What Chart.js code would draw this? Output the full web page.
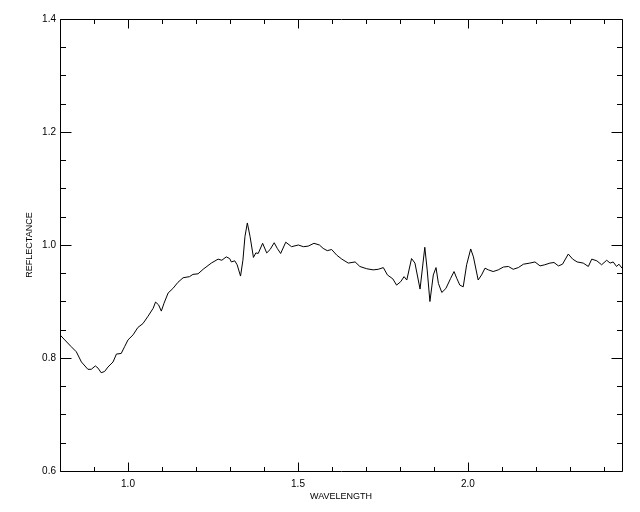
<!DOCTYPE html>
<html>
<head>
<meta charset="utf-8">
<title>Reflectance</title>
<script src="https://cdn.jsdelivr.net/npm/chart.js@4"></script>
<style>
  html, body { margin: 0; padding: 0; background: #fff; }
  canvas { display: block; }
</style>
</head>
<body>
<canvas id="myChart" width="640" height="512"></canvas>
<script>
// spectrum
const wavelength = [
  0.800, 0.814, 0.833, 0.848, 0.863, 0.882, 0.892, 0.904, 0.912, 0.921,
  0.931, 0.941, 0.956, 0.966, 0.980, 0.990, 1.000, 1.015, 1.029, 1.044,
  1.059, 1.074, 1.081, 1.090, 1.098, 1.106, 1.118, 1.132, 1.147, 1.162,
  1.181, 1.191, 1.206, 1.221, 1.245, 1.265, 1.276, 1.289, 1.299, 1.304,
  1.314, 1.321, 1.331, 1.338, 1.344, 1.351, 1.359, 1.369, 1.376, 1.383,
  1.396, 1.408, 1.418, 1.430, 1.439, 1.449, 1.464, 1.481, 1.501, 1.516,
  1.530, 1.547, 1.563, 1.574, 1.586, 1.599, 1.614, 1.629, 1.648, 1.668,
  1.682, 1.702, 1.721, 1.736, 1.751, 1.763, 1.779, 1.790, 1.802, 1.812,
  1.820, 1.834, 1.844, 1.859, 1.873, 1.880, 1.888, 1.898, 1.906, 1.913,
  1.923, 1.935, 1.949, 1.959, 1.967, 1.976, 1.986, 1.996, 2.008, 2.016,
  2.030, 2.040, 2.050, 2.060, 2.074, 2.089, 2.104, 2.119, 2.133, 2.148,
  2.163, 2.182, 2.197, 2.212, 2.226, 2.241, 2.253, 2.266, 2.278, 2.295,
  2.308, 2.321, 2.339, 2.354, 2.364, 2.379, 2.393, 2.408, 2.418, 2.427,
  2.437, 2.444, 2.453
];
const reflectance = [
  0.841, 0.832, 0.820, 0.811, 0.793, 0.780, 0.780, 0.786, 0.782, 0.774,
  0.776, 0.784, 0.793, 0.807, 0.808, 0.820, 0.832, 0.841, 0.854, 0.861,
  0.874, 0.888, 0.899, 0.894, 0.883, 0.897, 0.915, 0.923, 0.934, 0.942,
  0.944, 0.948, 0.949, 0.957, 0.968, 0.975, 0.973, 0.979, 0.976, 0.970,
  0.972, 0.965, 0.945, 0.973, 1.015, 1.039, 1.015, 0.978, 0.986, 0.985,
  1.003, 0.986, 0.992, 1.004, 0.994, 0.985, 1.005, 0.997, 1.000, 0.997,
  0.998, 1.003, 1.000, 0.994, 0.990, 0.992, 0.982, 0.975, 0.968, 0.970,
  0.962, 0.958, 0.956, 0.957, 0.960, 0.947, 0.940, 0.929, 0.935, 0.944,
  0.938, 0.976, 0.968, 0.922, 0.996, 0.956, 0.900, 0.947, 0.960, 0.932,
  0.916, 0.923, 0.941, 0.953, 0.941, 0.929, 0.926, 0.965, 0.993, 0.979,
  0.938, 0.947, 0.959, 0.956, 0.953, 0.956, 0.961, 0.962, 0.957, 0.960,
  0.966, 0.968, 0.970, 0.963, 0.965, 0.968, 0.969, 0.963, 0.966, 0.984,
  0.975, 0.970, 0.968, 0.962, 0.975, 0.972, 0.965, 0.973, 0.968, 0.970,
  0.962, 0.966, 0.959
];

// axis ranges and labelled ticks
const xRange = [0.8, 2.453];
const yRange = [0.6, 1.4];
const xTickLabels = [1.0, 1.5, 2.0];
const yTickLabels = [0.6, 0.8, 1.0, 1.2, 1.4];
const xMinorStep = 0.1;
const yMinorStep = 0.05;

const labelFont = { family: "'Liberation Sans', Arial, sans-serif", size: 10 };
const titleFont = { family: "'Liberation Sans', Arial, sans-serif", size: 9 };

// IDL style box with inward ticks on all four sides
const boxTicks = {
  id: 'boxTicks',
  afterDraw(chart) {
    const ctx = chart.ctx;
    const a = chart.chartArea;
    const xs = chart.scales.x;
    const ys = chart.scales.y;
    const L = a.left + 0.5, R = a.right + 0.5, T = a.top + 0.5, B = a.bottom + 0.5;
    ctx.save();
    ctx.strokeStyle = '#000';
    ctx.lineWidth = 1;
    ctx.beginPath();
    ctx.moveTo(L, T); ctx.lineTo(R, T); ctx.lineTo(R, B); ctx.lineTo(L, B); ctx.closePath();

    // x ticks
    const xMajor = 9, xMinor = 4.5;
    const n0 = Math.ceil(xRange[0] / xMinorStep - 1e-6);
    const n1 = Math.floor(xRange[1] / xMinorStep + 1e-6);
    for (let i = n0; i <= n1; i++) {
      const v = i * xMinorStep;
      const isMajor = xTickLabels.some(t => Math.abs(t - v) < 1e-6);
      const len = isMajor ? xMajor : xMinor;
      const px = Math.round(xs.getPixelForValue(v)) + 0.5;
      ctx.moveTo(px, B); ctx.lineTo(px, B - len);
      ctx.moveTo(px, T); ctx.lineTo(px, T + len);
    }

    // y ticks
    const yMajor = 11, yMinor = 5.5;
    const m0 = Math.round(yRange[0] / yMinorStep);
    const m1 = Math.round(yRange[1] / yMinorStep);
    for (let i = m0; i <= m1; i++) {
      const v = i * yMinorStep;
      const isMajor = yTickLabels.some(t => Math.abs(t - v) < 1e-6);
      const len = isMajor ? yMajor : yMinor;
      const py = Math.round(ys.getPixelForValue(v)) + 0.5;
      ctx.moveTo(L, py); ctx.lineTo(L + len, py);
      ctx.moveTo(R, py); ctx.lineTo(R - len, py);
    }
    ctx.stroke();
    ctx.restore();
  }
};

const points = wavelength.map((w, i) => ({ x: w, y: reflectance[i] }));

new Chart(document.getElementById('myChart'), {
  type: 'line',
  data: {
    datasets: [{
      data: points,
      borderColor: '#000',
      borderWidth: 1,
      pointRadius: 0,
      tension: 0,
      fill: false
    }]
  },
  options: {
    responsive: false,
    animation: false,
    layout: { padding: { top: 19, right: 18, left: 0, bottom: 0 } },
    plugins: { legend: { display: false }, tooltip: { enabled: false } },
    scales: {
      x: {
        type: 'linear',
        min: xRange[0],
        max: xRange[1],
        grid: { display: false, drawTicks: false },
        border: { display: false },
        afterBuildTicks: s => { s.ticks = xTickLabels.map(v => ({ value: v })); },
        afterFit: s => { s.height = 41; },
        ticks: {
          color: '#000',
          font: labelFont,
          padding: 7,
          maxRotation: 0,
          callback: v => Number(v).toFixed(1)
        },
        title: {
          display: true,
          text: 'WAVELENGTH',
          color: '#000',
          font: titleFont,
          padding: { top: 0, bottom: 10 }
        }
      },
      y: {
        type: 'linear',
        min: yRange[0],
        max: yRange[1],
        grid: { display: false, drawTicks: false },
        border: { display: false },
        afterBuildTicks: s => { s.ticks = yTickLabels.map(v => ({ value: v })); },
        afterFit: s => { s.width = 60; },
        ticks: {
          color: '#000',
          font: labelFont,
          padding: 4,
          callback: v => Number(v).toFixed(1)
        },
        title: {
          display: true,
          text: 'REFLECTANCE',
          color: '#000',
          font: titleFont,
          padding: { top: 24, bottom: 0 }
        }
      }
    }
  },
  plugins: [boxTicks]
});
</script>
</body>
</html>
